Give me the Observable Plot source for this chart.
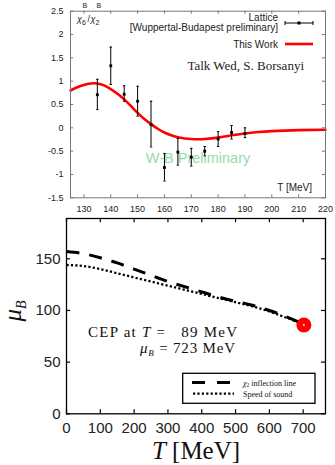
<!DOCTYPE html>
<html><head><meta charset="utf-8">
<script src="https://cdn.jsdelivr.net/npm/d3@7"></script>
<script src="https://cdn.jsdelivr.net/npm/@observablehq/plot@0.6"></script>
<style>
html,body{margin:0;padding:0;background:#fff;}
#wrap{position:relative;width:335px;height:465px;overflow:hidden;background:#fff;}
#wrap svg{position:absolute;left:0;}
</style></head><body><div id="wrap"></div>
<script>
// ---------- top panel data ----------
const latticeT   = [135, 140, 145, 150, 155, 160, 165, 170, 175, 180, 185, 190];
const latticeVal = [0.71, 1.33, 0.72, 0.57, 0.07, -0.85, -0.52, -0.63, -0.50, -0.24, -0.10, -0.12];
const latticeLo  = [0.39, 0.93, 0.57, 0.25, -0.41, -1.14, -0.80, -0.82, -0.60, -0.40, -0.24, -0.21];
const latticeHi  = [1.04, 1.73, 0.90, 0.89, 0.57, -0.55, -0.23, -0.44, -0.40, -0.08, 0.05, 0.00];
const curveT   = [125, 127.5, 130, 132.5, 135, 137.5, 140, 142.5, 145, 147.5, 150, 152.5, 155, 157.5, 160, 162.5, 165, 170, 175, 180, 185, 190, 195, 200, 210, 220];
const curveVal = [0.80, 0.87, 0.92, 0.95, 0.95, 0.91, 0.83, 0.73, 0.61, 0.47, 0.32, 0.19, 0.08, -0.02, -0.10, -0.16, -0.20, -0.24, -0.24, -0.21, -0.16, -0.12, -0.09, -0.07, -0.05, -0.04];
const topXTicks = [130, 140, 150, 160, 170, 180, 190, 200, 210, 220];
const topYTicks = [-1.5, -1, -0.5, 0, 0.5, 1, 1.5, 2, 2.5];

// ---------- bottom panel data ----------
const lineT        = [0, 50, 100, 150, 200, 250, 300, 350, 400, 450, 500, 550, 600, 650, 700];
const inflectionMu = [157, 155, 151, 146, 140, 134, 128, 123, 118, 113, 109, 105, 100, 94, 87];
const soundMu      = [144, 143, 140, 136, 132, 128, 124, 120, 116, 112, 108, 104, 99, 93, 87];
const cepT = [702];
const cepMu = [86];
const botXTicks = [0, 100, 200, 300, 400, 500, 600, 700];
const botYTicks = [0, 50, 100, 150];

const lattice = latticeT.map((T, i) => ({T, v: latticeVal[i], lo: latticeLo[i], hi: latticeHi[i]}));
const curve = curveT.map((T, i) => ({T, v: curveVal[i]}));
const inflection = lineT.map((T, i) => ({T, mu: inflectionMu[i]}));
const sound = lineT.map((T, i) => ({T, mu: soundMu[i]}));
const cep = cepT.map((T, i) => ({T, mu: cepMu[i]}));

const sans = "'Liberation Sans', Arial, Helvetica, sans-serif";
const serif = "'Liberation Serif', 'Times New Roman', serif";

// ---------- top chart ----------
const tX = [125, 220], tY = [-1.5, 2.5];
const topChart = Plot.plot({
  width: 335, height: 215,
  marginLeft: 70, marginRight: 10, marginTop: 10.7, marginBottom: 17.7,
  x: {domain: tX, axis: null},
  y: {domain: tY, axis: null},
  style: {fontFamily: sans, fontSize: "9px", background: "white", color: "#222"},
  marks: [
    Plot.text(["W-B Preliminary"], {x: [172.5], y: [-0.6], text: d => d, fill: "#96dca4", fontSize: 14.5, textAnchor: "middle", lineAnchor: "bottom", dy: 7}),
    Plot.line(curve, {x: "T", y: "v", stroke: "#f00", strokeWidth: 2.6, curve: "natural"}),
    Plot.ruleX(lattice, {x: "T", y1: "lo", y2: "hi", stroke: "#000", strokeWidth: 1}),
    Plot.link(lattice, {x1: d => d.T - 0.45, x2: d => d.T + 0.45, y1: "lo", y2: "lo", stroke: "#000", strokeWidth: 1}),
    Plot.link(lattice, {x1: d => d.T - 0.45, x2: d => d.T + 0.45, y1: "hi", y2: "hi", stroke: "#000", strokeWidth: 1}),
    Plot.dot(lattice, {x: "T", y: "v", symbol: "square", r: 1.6, fill: "#000"}),
    Plot.frame({stroke: "#777", strokeWidth: 1}),
    Plot.ruleX(topXTicks, {x: d => d, y1: tY[0], y2: tY[0] + 0.065, stroke: "#777"}),
    Plot.ruleX(topXTicks, {x: d => d, y1: tY[1] - 0.065, y2: tY[1], stroke: "#777"}),
    Plot.ruleY(topYTicks, {y: d => d, x1: tX[0], x2: tX[0] + 1.2, stroke: "#777"}),
    Plot.ruleY(topYTicks, {y: d => d, x1: tX[1] - 1.2, x2: tX[1], stroke: "#777"}),
    Plot.axisX({ticks: topXTicks, tickSize: 0, tickPadding: 7.5, tickFormat: d => String(d), fontSize: 9, label: null}),
    Plot.axisY({ticks: topYTicks, tickSize: 0, tickPadding: 7, tickFormat: d => String(d), fontSize: 9, label: null})
  ]
});
topChart.style.top = "0px";
document.getElementById("wrap").appendChild(topChart);

{
  const s = d3.select(topChart);
  const g = s.append("g").attr("font-family", sans).attr("fill", "#222").attr("text-anchor", "start");
  // y label chi6/chi2
  const lab = g.append("g").attr("font-size", 9);
  lab.append("text").attr("x", 77).attr("y", 22).attr("font-style", "italic").text("χ");
  lab.append("text").attr("x", 82).attr("y", 24.5).attr("font-size", 7).text("6");
  lab.append("text").attr("x", 82.5).attr("y", 8).attr("font-size", 7).text("B");
  lab.append("text").attr("x", 87.5).attr("y", 22).text("/");
  lab.append("text").attr("x", 90.5).attr("y", 22).attr("font-style", "italic").text("χ");
  lab.append("text").attr("x", 95.5).attr("y", 24.5).attr("font-size", 7).text("2");
  lab.append("text").attr("x", 96.5).attr("y", 8).attr("font-size", 7).text("B");
  // legend
  const lg = g.append("g").attr("font-size", 10).attr("text-anchor", "end");
  lg.append("text").attr("x", 278).attr("y", 20.5).text("Lattice");
  lg.append("text").attr("x", 278).attr("y", 31).text("[Wuppertal-Budapest preliminary]");
  lg.append("text").attr("x", 278).attr("y", 48).text("This Work");
  g.append("line").attr("x1", 285).attr("x2", 313).attr("y1", 23).attr("y2", 23).attr("stroke", "#000");
  g.append("line").attr("x1", 285).attr("x2", 285).attr("y1", 21).attr("y2", 25).attr("stroke", "#000");
  g.append("line").attr("x1", 313).attr("x2", 313).attr("y1", 21).attr("y2", 25).attr("stroke", "#000");
  g.append("rect").attr("x", 297.5).attr("y", 21.5).attr("width", 3).attr("height", 3).attr("fill", "#000");
  g.append("line").attr("x1", 285).attr("x2", 313).attr("y1", 44).attr("y2", 44).attr("stroke", "#f00").attr("stroke-width", 2.6);
  g.append("text").attr("x", 304).attr("y", 69.5).attr("text-anchor", "end").attr("font-family", serif).attr("font-size", 13).text("Talk Wed, S. Borsanyi");
  g.append("text").attr("x", 312).attr("y", 191).attr("text-anchor", "end").attr("font-size", 10).text("T [MeV]");
}

// ---------- bottom chart ----------
const bX = [0, 766], bY = [0, 189];
const botChart = Plot.plot({
  width: 335, height: 250,
  marginLeft: 66, marginRight: 10, marginTop: 3, marginBottom: 51.7,
  x: {domain: bX, axis: null},
  y: {domain: bY, axis: null},
  style: {fontFamily: sans, fontSize: "15px", background: "white", color: "#222"},
  marks: [
    Plot.line(sound, {x: "T", y: "mu", stroke: "#000", strokeWidth: 2.3, strokeDasharray: "2.2,2.2", strokeLinecap: "butt", curve: "natural"}),
    Plot.line(inflection, {x: "T", y: "mu", stroke: "#000", strokeWidth: 3, strokeDasharray: "13,10", strokeLinecap: "butt", curve: "natural"}),
    Plot.dot(cep, {x: "T", y: "mu", r: 7.5, fill: "#f00"}),
    Plot.dot(cep, {x: "T", y: "mu", r: 0.9, fill: "#fff"}),
    Plot.frame({stroke: "#000", strokeWidth: 1.3}),
    Plot.ruleX(botXTicks, {x: d => d, y1: bY[0], y2: bY[0] + 4, stroke: "#000", strokeWidth: 1.2}),
    Plot.ruleX(botXTicks, {x: d => d, y1: bY[1] - 4, y2: bY[1], stroke: "#000", strokeWidth: 1.2}),
    Plot.ruleY(botYTicks, {y: d => d, x1: bX[0], x2: bX[0] + 12, stroke: "#000", strokeWidth: 1.2}),
    Plot.ruleY(botYTicks, {y: d => d, x1: bX[1] - 12, x2: bX[1], stroke: "#000", strokeWidth: 1.2}),
    Plot.axisX({ticks: botXTicks, tickSize: 0, tickPadding: 9, tickFormat: d => String(d), fontSize: 15, label: null}),
    Plot.axisY({ticks: botYTicks, tickSize: 0, tickPadding: 6, tickFormat: d => String(d), fontSize: 15, label: null})
  ]
});
botChart.style.top = "215px";
document.getElementById("wrap").appendChild(botChart);

{
  const s = d3.select(botChart);
  const g = s.append("g").attr("font-family", serif).attr("fill", "#111").attr("text-anchor", "start");
  // axis labels
  const xl = g.append("text").attr("x", 196).attr("y", 244).attr("text-anchor", "middle").attr("font-size", 25);
  xl.append("tspan").attr("font-style", "italic").text("T");
  xl.append("tspan").text(" [MeV]");
  const yl = g.append("text").attr("transform", "translate(21,96) rotate(-90)").attr("text-anchor", "middle").attr("font-size", 25);
  yl.append("tspan").attr("font-style", "italic").text("μ");
  yl.append("tspan").attr("font-size", 14).attr("font-style", "italic").attr("dy", 5).text("B");
  // CEP annotation
  const c1 = g.append("text").attr("x", 88).attr("y", 121.5).attr("font-size", 15)
    .attr("textLength", 149).attr("lengthAdjust", "spacing");
  c1.append("tspan").text("CEP at ");
  c1.append("tspan").attr("font-style", "italic").text("T");
  c1.append("tspan").text(" =   89 MeV");
  const c2 = g.append("text").attr("x", 140).attr("y", 138).attr("font-size", 15)
    .attr("textLength", 95).attr("lengthAdjust", "spacing");
  c2.append("tspan").attr("font-style", "italic").text("μ");
  c2.append("tspan").attr("font-style", "italic").attr("font-size", 9).attr("dy", 3).text("B");
  c2.append("tspan").attr("dy", -3).text(" = 723 MeV");
  // legend box
  g.append("rect").attr("x", 182.7).attr("y", 158.3).attr("width", 132.3).attr("height", 30).attr("fill", "#fff").attr("stroke", "#000").attr("stroke-width", 1.3);
  g.append("line").attr("x1", 192).attr("x2", 230).attr("y1", 167.5).attr("y2", 167.5).attr("stroke", "#000").attr("stroke-width", 3).attr("stroke-dasharray", "13,12");
  g.append("line").attr("x1", 193).attr("x2", 234).attr("y1", 178.7).attr("y2", 178.7).attr("stroke", "#000").attr("stroke-width", 2.3).attr("stroke-dasharray", "2.2,2.2");
  const l1 = g.append("text").attr("x", 243).attr("y", 170.5).attr("font-size", 8);
  l1.append("tspan").attr("font-style", "italic").text("χ");
  l1.append("tspan").attr("font-size", 5.5).attr("dy", 1.5).text("2");
  l1.append("tspan").attr("dy", -1.5).text(" inflection line");
  g.append("text").attr("x", 243).attr("y", 181.5).attr("font-size", 8).text("Speed of sound");
}
</script></body></html>
